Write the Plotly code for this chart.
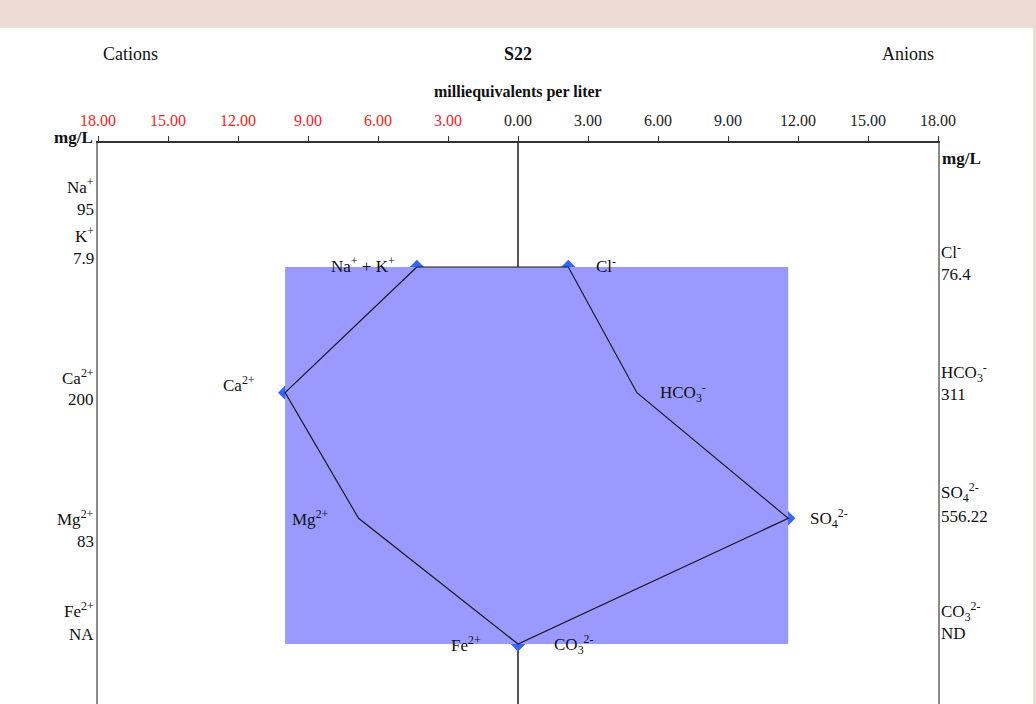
import plotly.graph_objects as go

# Sample and measured concentrations (mg/L); None = not available / not detected
sample_name = "S22"
cation_names = ["Na<sup>+</sup> + K<sup>+</sup>", "Ca<sup>2+</sup>", "Mg<sup>2+</sup>", "Fe<sup>2+</sup>"]
anion_names = ["Cl<sup>-</sup>", "HCO<sub>3</sub><sup>-</sup>", "SO<sub>4</sub><sup>2-</sup>", "CO<sub>3</sub><sup>2-</sup>"]

na_mgl = 95
k_mgl = 7.9
ca_mgl = 200
mg_mgl = 83
fe_mgl = None
cl_mgl = 76.4
hco3_mgl = 311
so4_mgl = 556.22
co3_mgl = None

# Equivalent weights (g/eq) used to convert mg/L to meq/L
eq_weights = {"Na": 22.99, "K": 39.10, "Ca": 20.04, "Mg": 12.15, "Fe": 27.92,
              "Cl": 35.45, "HCO3": 61.02, "SO4": 48.03, "CO3": 30.00}

tick_values = [-18, -15, -12, -9, -6, -3, 0, 3, 6, 9, 12, 15, 18]
tick_labels = ["18.00", "15.00", "12.00", "9.00", "6.00", "3.00", "0.00",
               "3.00", "6.00", "9.00", "12.00", "15.00", "18.00"]


def meq(value, ion):
    return 0.0 if value is None else value / eq_weights[ion]


def fmt(value, missing):
    return missing if value is None else f"{value:g}"


cation_meq = [meq(na_mgl, "Na") + meq(k_mgl, "K"), meq(ca_mgl, "Ca"),
              meq(mg_mgl, "Mg"), meq(fe_mgl, "Fe")]
anion_meq = [meq(cl_mgl, "Cl"), meq(hco3_mgl, "HCO3"),
             meq(so4_mgl, "SO4"), meq(co3_mgl, "CO3")]
rows = [0, 1, 2, 3]

# Stiff polygon: cations on the left (negative), anions on the right
poly_x = [-v for v in cation_meq] + anion_meq[::-1] + [-cation_meq[0]]
poly_y = rows + rows[::-1] + [rows[0]]

xmin, xmax = min(poly_x), max(poly_x)

FONT = "Liberation Serif, Times New Roman, serif"
INK = "#111111"

fig = go.Figure()

# vertex markers (sit beneath the shaded box)
fig.add_trace(go.Scatter(
    x=[-v for v in cation_meq] + anion_meq, y=rows + rows,
    mode="markers", marker=dict(symbol="diamond", size=11, color="#3366ff"),
    hoverinfo="skip", showlegend=False))

# shaded bounding box of the diagram
fig.add_trace(go.Scatter(
    x=[xmin, xmax, xmax, xmin, xmin], y=[rows[0], rows[0], rows[-1], rows[-1], rows[0]],
    mode="lines", fill="toself", fillcolor="#9999ff", line=dict(width=0),
    hoverinfo="skip", showlegend=False))

# polygon outline
fig.add_trace(go.Scatter(
    x=poly_x, y=poly_y, mode="lines", line=dict(color="#1a1a1a", width=1.2),
    hoverinfo="skip", showlegend=False))

W, H = 1036, 704
L, R, T = 98, 938, 143
row_top, row_px = 267, (644 - 267) / 3
y_top = -(row_top - T) / row_px
y_bottom = 3 + (H - 644) / row_px


def py(pix):
    return (H - pix) / (H - T)


def px(pix):
    return (pix - L) / (R - L)


ann = []


def text(x, y, s, size=18, bold=False, xanchor="center", yanchor="middle",
         xref="paper", yref="paper", xshift=0, yshift=0, color=INK):
    if bold:
        s = f"<b>{s}</b>"
    ann.append(dict(x=x, y=y, text=s, xref=xref, yref=yref, showarrow=False,
                    xanchor=xanchor, yanchor=yanchor, xshift=xshift, yshift=yshift,
                    font=dict(family=FONT, size=size, color=color)))


# header
text(px(130), py(54), "Cations")
text(px(518), py(54), sample_name, bold=True)
text(px(908), py(54), "Anions")
text(px(518), py(92), "milliequivalents per liter", size=16, bold=True)
text(px(95), py(138), "mg/L", size=17, bold=True, xanchor="right")
text(px(940), py(158), "mg/L", size=17, bold=True, xanchor="left")

# left margin: cation concentrations
left_rows = [("Na<sup>+</sup>", 186), (fmt(na_mgl, "NA"), 210),
             ("K<sup>+</sup>", 235), (fmt(k_mgl, "NA"), 258),
             ("Ca<sup>2+</sup>", 377), (fmt(ca_mgl, "NA"), 399),
             ("Mg<sup>2+</sup>", 518), (fmt(mg_mgl, "NA"), 541),
             ("Fe<sup>2+</sup>", 610), (fmt(fe_mgl, "NA"), 634)]
for s, yy in left_rows:
    text(px(96), py(yy), s, size=17, xanchor="right")

# right margin: anion concentrations
right_rows = [(anion_names[0], 251), (fmt(cl_mgl, "ND"), 274),
              (anion_names[1], 372), (fmt(hco3_mgl, "ND"), 394),
              (anion_names[2], 492), (fmt(so4_mgl, "ND"), 516),
              (anion_names[3], 611), (fmt(co3_mgl, "ND"), 633)]
for s, yy in right_rows:
    text(px(939), py(yy), s, size=17, xanchor="left")

# vertex labels, offset from their points
cat_offsets = [(-20, 2), (-28, 9), (-28, 0), (-35, 0)]
an_offsets = [(26, 2), (21, 0), (20, 0), (34, 0)]
for name, v, r, (dx, dy) in zip(cation_names, cation_meq, rows, cat_offsets):
    text(-v, r, name, size=17, xanchor="right", xref="x", yref="y", xshift=dx, yshift=dy)
for name, v, r, (dx, dy) in zip(anion_names, anion_meq, rows, an_offsets):
    text(v, r, name, size=17, xanchor="left", xref="x", yref="y", xshift=dx, yshift=dy)

tick_text = [f"<span style='color:#ff1a1a'>{t}</span>" if v < 0 else t
             for v, t in zip(tick_values, tick_labels)]

# background strip along the top edge
shapes = [dict(type="rect", xref="paper", yref="paper",
               x0=px(0), x1=px(W), y0=py(28), y1=py(0),
               fillcolor="#ecdcd4", line=dict(width=0), layer="below"),
          dict(type="rect", xref="paper", yref="paper",
               x0=px(1033), x1=px(W), y0=py(H), y1=py(28),
               fillcolor="#ecdcd4", line=dict(width=0), layer="below")]

fig.update_layout(
    width=W, height=H,
    margin=dict(l=L, r=W - R, t=T, b=0, pad=0),
    paper_bgcolor="white", plot_bgcolor="white",
    annotations=ann, shapes=shapes,
    xaxis=dict(range=[-18, 18], side="top", tickvals=tick_values, ticktext=tick_text,
               ticks="outside", ticklen=5, tickwidth=1.2, tickcolor="#333333",
               showline=True, linecolor="#333333", linewidth=1.5,
               showgrid=False, zeroline=True, zerolinecolor="#555555", zerolinewidth=1.5,
               tickfont=dict(family=FONT, size=16, color="#222222"),
               ticklabelstandoff=4, fixedrange=True),
    yaxis=dict(range=[y_bottom, y_top], showticklabels=False, ticks="",
               showgrid=False, zeroline=False, showline=True,
               linecolor="#8a8a8a", linewidth=2, mirror=True, fixedrange=True),
)

fig.write_html("out.html")
